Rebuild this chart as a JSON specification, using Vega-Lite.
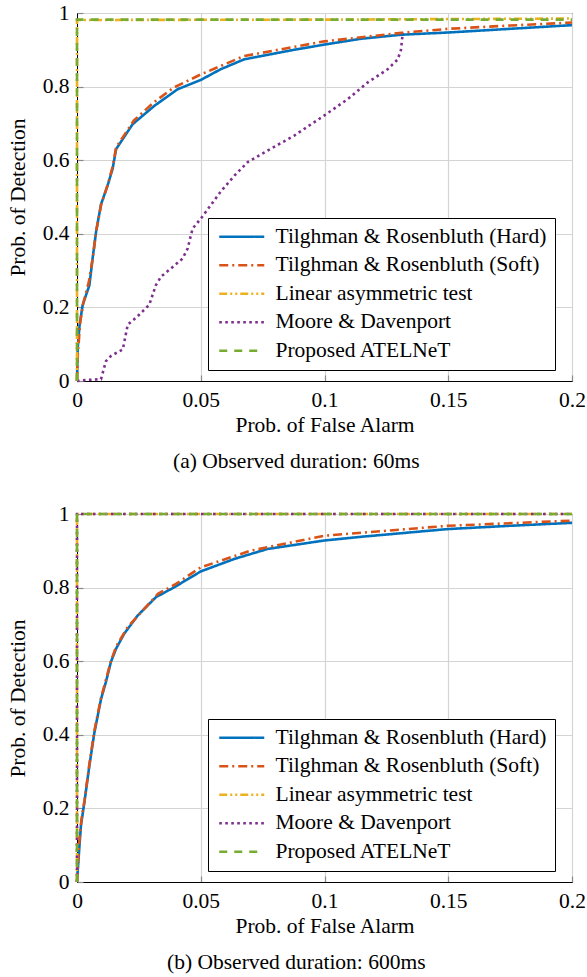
{
  "$schema": "https://vega.github.io/schema/vega-lite/v6.json",
  "padding": {"left": 6, "top": 1, "right": 2, "bottom": 2},
  "background": "white",
  "spacing": 29,
  "config": {
    "font": "Liberation Serif",
    "view": {"stroke": "black", "strokeWidth": 1},
    "axis": {
      "labelFont": "Liberation Serif", "labelFontSize": 21.5, "labelColor": "black",
      "titleFont": "Liberation Serif", "titleFontSize": 21.5, "titleFontWeight": "normal", "titleColor": "black",
      "domainColor": "black", "domainWidth": 1,
      "gridColor": "#d4d4d4", "gridWidth": 1.2,
      "ticks": true, "tickSize": -6, "tickColor": "#8a8a8a", "tickWidth": 1.2,
      "labelPadding": 14, "labelFlush": false
    },
    "axisX": {"titlePadding": 4},
    "axisY": {"titlePadding": 13},
    "legend": {
      "labelFont": "Liberation Serif", "labelFontSize": 21.5, "labelColor": "black",
      "fillColor": "white", "strokeColor": "black", "padding": 8,
      "symbolType": "M-1,0H5", "symbolSize": 225, "symbolStrokeWidth": 2.6,
      "labelOffset": 38, "rowPadding": 5.5, "labelLimit": 400
    },
    "title": {"font": "Liberation Serif", "fontSize": 21.5, "fontWeight": "normal", "color": "black", "orient": "bottom", "frame": "bounds", "anchor": "middle", "offset": 15}
  },
  "datasets": {
    "a": [
      {"method": "Tilghman & Rosenbluth (Hard)", "x": 0, "y": 0},
      {"method": "Tilghman & Rosenbluth (Hard)", "x": 0.0003, "y": 0.09},
      {"method": "Tilghman & Rosenbluth (Hard)", "x": 0.001, "y": 0.15},
      {"method": "Tilghman & Rosenbluth (Hard)", "x": 0.0023, "y": 0.207},
      {"method": "Tilghman & Rosenbluth (Hard)", "x": 0.005, "y": 0.26},
      {"method": "Tilghman & Rosenbluth (Hard)", "x": 0.0063, "y": 0.333},
      {"method": "Tilghman & Rosenbluth (Hard)", "x": 0.0077, "y": 0.405},
      {"method": "Tilghman & Rosenbluth (Hard)", "x": 0.0097, "y": 0.48},
      {"method": "Tilghman & Rosenbluth (Hard)", "x": 0.0124, "y": 0.532},
      {"method": "Tilghman & Rosenbluth (Hard)", "x": 0.0144, "y": 0.577},
      {"method": "Tilghman & Rosenbluth (Hard)", "x": 0.0158, "y": 0.63},
      {"method": "Tilghman & Rosenbluth (Hard)", "x": 0.0225, "y": 0.698},
      {"method": "Tilghman & Rosenbluth (Hard)", "x": 0.0313, "y": 0.748},
      {"method": "Tilghman & Rosenbluth (Hard)", "x": 0.0407, "y": 0.793},
      {"method": "Tilghman & Rosenbluth (Hard)", "x": 0.05, "y": 0.818},
      {"method": "Tilghman & Rosenbluth (Hard)", "x": 0.058, "y": 0.847},
      {"method": "Tilghman & Rosenbluth (Hard)", "x": 0.0675, "y": 0.874},
      {"method": "Tilghman & Rosenbluth (Hard)", "x": 0.0877, "y": 0.9},
      {"method": "Tilghman & Rosenbluth (Hard)", "x": 0.0998, "y": 0.914},
      {"method": "Tilghman & Rosenbluth (Hard)", "x": 0.1147, "y": 0.93},
      {"method": "Tilghman & Rosenbluth (Hard)", "x": 0.131, "y": 0.941},
      {"method": "Tilghman & Rosenbluth (Hard)", "x": 0.15, "y": 0.947},
      {"method": "Tilghman & Rosenbluth (Hard)", "x": 0.175, "y": 0.957},
      {"method": "Tilghman & Rosenbluth (Hard)", "x": 0.2, "y": 0.967},
      {"method": "Tilghman & Rosenbluth (Soft)", "x": 0, "y": 0},
      {"method": "Tilghman & Rosenbluth (Soft)", "x": 0.0003, "y": 0.07},
      {"method": "Tilghman & Rosenbluth (Soft)", "x": 0.0013, "y": 0.16},
      {"method": "Tilghman & Rosenbluth (Soft)", "x": 0.0025, "y": 0.21},
      {"method": "Tilghman & Rosenbluth (Soft)", "x": 0.0048, "y": 0.27},
      {"method": "Tilghman & Rosenbluth (Soft)", "x": 0.0065, "y": 0.34},
      {"method": "Tilghman & Rosenbluth (Soft)", "x": 0.0078, "y": 0.41},
      {"method": "Tilghman & Rosenbluth (Soft)", "x": 0.0098, "y": 0.48},
      {"method": "Tilghman & Rosenbluth (Soft)", "x": 0.0125, "y": 0.535},
      {"method": "Tilghman & Rosenbluth (Soft)", "x": 0.0145, "y": 0.585},
      {"method": "Tilghman & Rosenbluth (Soft)", "x": 0.0158, "y": 0.635},
      {"method": "Tilghman & Rosenbluth (Soft)", "x": 0.023, "y": 0.708},
      {"method": "Tilghman & Rosenbluth (Soft)", "x": 0.031, "y": 0.757},
      {"method": "Tilghman & Rosenbluth (Soft)", "x": 0.039, "y": 0.797},
      {"method": "Tilghman & Rosenbluth (Soft)", "x": 0.05, "y": 0.833},
      {"method": "Tilghman & Rosenbluth (Soft)", "x": 0.0675, "y": 0.883},
      {"method": "Tilghman & Rosenbluth (Soft)", "x": 0.1, "y": 0.923},
      {"method": "Tilghman & Rosenbluth (Soft)", "x": 0.131, "y": 0.946},
      {"method": "Tilghman & Rosenbluth (Soft)", "x": 0.15, "y": 0.957},
      {"method": "Tilghman & Rosenbluth (Soft)", "x": 0.175, "y": 0.966},
      {"method": "Tilghman & Rosenbluth (Soft)", "x": 0.2, "y": 0.974},
      {"method": "Linear asymmetric test", "x": 0, "y": 0},
      {"method": "Linear asymmetric test", "x": 0, "y": 0.981},
      {"method": "Linear asymmetric test", "x": 0.1, "y": 0.982},
      {"method": "Linear asymmetric test", "x": 0.2, "y": 0.985},
      {"method": "Moore & Davenport", "x": 0, "y": 0},
      {"method": "Moore & Davenport", "x": 0.0043, "y": 0.003},
      {"method": "Moore & Davenport", "x": 0.0097, "y": 0.005},
      {"method": "Moore & Davenport", "x": 0.0117, "y": 0.054},
      {"method": "Moore & Davenport", "x": 0.0137, "y": 0.068},
      {"method": "Moore & Davenport", "x": 0.0185, "y": 0.086},
      {"method": "Moore & Davenport", "x": 0.0205, "y": 0.153},
      {"method": "Moore & Davenport", "x": 0.0245, "y": 0.176},
      {"method": "Moore & Davenport", "x": 0.0292, "y": 0.207},
      {"method": "Moore & Davenport", "x": 0.0319, "y": 0.261},
      {"method": "Moore & Davenport", "x": 0.034, "y": 0.284},
      {"method": "Moore & Davenport", "x": 0.038, "y": 0.306},
      {"method": "Moore & Davenport", "x": 0.0427, "y": 0.333},
      {"method": "Moore & Davenport", "x": 0.0447, "y": 0.36},
      {"method": "Moore & Davenport", "x": 0.0467, "y": 0.414},
      {"method": "Moore & Davenport", "x": 0.05, "y": 0.441},
      {"method": "Moore & Davenport", "x": 0.058, "y": 0.514},
      {"method": "Moore & Davenport", "x": 0.0636, "y": 0.558},
      {"method": "Moore & Davenport", "x": 0.069, "y": 0.595},
      {"method": "Moore & Davenport", "x": 0.077, "y": 0.626},
      {"method": "Moore & Davenport", "x": 0.0878, "y": 0.667},
      {"method": "Moore & Davenport", "x": 0.0998, "y": 0.721},
      {"method": "Moore & Davenport", "x": 0.1094, "y": 0.766},
      {"method": "Moore & Davenport", "x": 0.1174, "y": 0.811},
      {"method": "Moore & Davenport", "x": 0.1255, "y": 0.847},
      {"method": "Moore & Davenport", "x": 0.1296, "y": 0.874},
      {"method": "Moore & Davenport", "x": 0.1309, "y": 0.9},
      {"method": "Moore & Davenport", "x": 0.1316, "y": 0.946},
      {"method": "Proposed ATELNeT", "x": 0, "y": 0},
      {"method": "Proposed ATELNeT", "x": 0, "y": 0.982},
      {"method": "Proposed ATELNeT", "x": 0.2, "y": 0.982}
    ],
    "b": [
      {"method": "Tilghman & Rosenbluth (Hard)", "x": 0, "y": 0},
      {"method": "Tilghman & Rosenbluth (Hard)", "x": 0.0009, "y": 0.09},
      {"method": "Tilghman & Rosenbluth (Hard)", "x": 0.0016, "y": 0.154},
      {"method": "Tilghman & Rosenbluth (Hard)", "x": 0.003, "y": 0.217},
      {"method": "Tilghman & Rosenbluth (Hard)", "x": 0.005, "y": 0.316},
      {"method": "Tilghman & Rosenbluth (Hard)", "x": 0.007, "y": 0.405},
      {"method": "Tilghman & Rosenbluth (Hard)", "x": 0.0097, "y": 0.497},
      {"method": "Tilghman & Rosenbluth (Hard)", "x": 0.0117, "y": 0.544},
      {"method": "Tilghman & Rosenbluth (Hard)", "x": 0.0137, "y": 0.598},
      {"method": "Tilghman & Rosenbluth (Hard)", "x": 0.0158, "y": 0.634},
      {"method": "Tilghman & Rosenbluth (Hard)", "x": 0.0191, "y": 0.675},
      {"method": "Tilghman & Rosenbluth (Hard)", "x": 0.0245, "y": 0.724},
      {"method": "Tilghman & Rosenbluth (Hard)", "x": 0.0319, "y": 0.774},
      {"method": "Tilghman & Rosenbluth (Hard)", "x": 0.0393, "y": 0.801},
      {"method": "Tilghman & Rosenbluth (Hard)", "x": 0.05, "y": 0.844},
      {"method": "Tilghman & Rosenbluth (Hard)", "x": 0.0636, "y": 0.878},
      {"method": "Tilghman & Rosenbluth (Hard)", "x": 0.077, "y": 0.905},
      {"method": "Tilghman & Rosenbluth (Hard)", "x": 0.0999, "y": 0.928},
      {"method": "Tilghman & Rosenbluth (Hard)", "x": 0.1147, "y": 0.938},
      {"method": "Tilghman & Rosenbluth (Hard)", "x": 0.1497, "y": 0.959},
      {"method": "Tilghman & Rosenbluth (Hard)", "x": 0.175, "y": 0.968},
      {"method": "Tilghman & Rosenbluth (Hard)", "x": 0.2, "y": 0.976},
      {"method": "Tilghman & Rosenbluth (Soft)", "x": 0, "y": 0},
      {"method": "Tilghman & Rosenbluth (Soft)", "x": 0.0008, "y": 0.1},
      {"method": "Tilghman & Rosenbluth (Soft)", "x": 0.0018, "y": 0.17},
      {"method": "Tilghman & Rosenbluth (Soft)", "x": 0.003, "y": 0.22},
      {"method": "Tilghman & Rosenbluth (Soft)", "x": 0.005, "y": 0.32},
      {"method": "Tilghman & Rosenbluth (Soft)", "x": 0.007, "y": 0.41},
      {"method": "Tilghman & Rosenbluth (Soft)", "x": 0.0097, "y": 0.5},
      {"method": "Tilghman & Rosenbluth (Soft)", "x": 0.0137, "y": 0.6},
      {"method": "Tilghman & Rosenbluth (Soft)", "x": 0.0158, "y": 0.64},
      {"method": "Tilghman & Rosenbluth (Soft)", "x": 0.0205, "y": 0.693},
      {"method": "Tilghman & Rosenbluth (Soft)", "x": 0.0327, "y": 0.783},
      {"method": "Tilghman & Rosenbluth (Soft)", "x": 0.04, "y": 0.81},
      {"method": "Tilghman & Rosenbluth (Soft)", "x": 0.05, "y": 0.855},
      {"method": "Tilghman & Rosenbluth (Soft)", "x": 0.07, "y": 0.9},
      {"method": "Tilghman & Rosenbluth (Soft)", "x": 0.1, "y": 0.941},
      {"method": "Tilghman & Rosenbluth (Soft)", "x": 0.15, "y": 0.968},
      {"method": "Tilghman & Rosenbluth (Soft)", "x": 0.2, "y": 0.982},
      {"method": "Linear asymmetric test", "x": 0, "y": 0},
      {"method": "Linear asymmetric test", "x": 0, "y": 1},
      {"method": "Linear asymmetric test", "x": 0.2, "y": 1},
      {"method": "Moore & Davenport", "x": 0, "y": 0},
      {"method": "Moore & Davenport", "x": 0, "y": 1},
      {"method": "Moore & Davenport", "x": 0.2, "y": 1},
      {"method": "Proposed ATELNeT", "x": 0, "y": 0},
      {"method": "Proposed ATELNeT", "x": 0, "y": 1},
      {"method": "Proposed ATELNeT", "x": 0.2, "y": 1}
    ]
  },
  "resolve": {
    "scale": {"color": "independent", "strokeDash": "independent"},
    "legend": {"color": "independent", "strokeDash": "independent"}
  },
  "vconcat": [
    {
      "width": 495, "height": 368,
      "title": {"text": "(a) Observed duration: 60ms"},
      "data": {"name": "a"},
      "mark": {"type": "line", "strokeWidth": 2.6, "strokeCap": "butt", "clip": false},
      "encoding": {
        "x": {"field": "x", "type": "quantitative", "scale": {"domain": [0, 0.2], "nice": false}, "axis": {"title": "Prob. of False Alarm", "values": [0, 0.05, 0.1, 0.15, 0.2], "format": "~g"}},
        "y": {"field": "y", "type": "quantitative", "scale": {"domain": [0, 1], "nice": false}, "axis": {"title": "Prob. of Detection", "values": [0, 0.2, 0.4, 0.6, 0.8, 1], "format": "~g"}},
        "color": {"field": "method", "type": "nominal",
          "scale": {"domain": ["Tilghman & Rosenbluth (Hard)", "Tilghman & Rosenbluth (Soft)", "Linear asymmetric test", "Moore & Davenport", "Proposed ATELNeT"], "range": ["#0072BD", "#D95319", "#EDB120", "#7E2F8E", "#77AC30"]},
          "legend": {"title": null, "orient": "none", "legendX": 131, "legendY": 205}},
        "strokeDash": {"field": "method", "type": "nominal",
          "scale": {"domain": ["Tilghman & Rosenbluth (Hard)", "Tilghman & Rosenbluth (Soft)", "Linear asymmetric test", "Moore & Davenport", "Proposed ATELNeT"], "range": [[1, 0], [9, 4, 2, 4], [8, 3, 2, 3, 2, 3], [2.6, 3.4], [8, 7]]},
          "legend": {"title": null, "orient": "none", "legendX": 131, "legendY": 205}},
        "order": {"value": null}
      }
    },
    {
      "width": 495, "height": 368,
      "title": {"text": "(b) Observed duration: 600ms"},
      "data": {"name": "b"},
      "mark": {"type": "line", "strokeWidth": 2.6, "strokeCap": "butt", "clip": false},
      "encoding": {
        "x": {"field": "x", "type": "quantitative", "scale": {"domain": [0, 0.2], "nice": false}, "axis": {"title": "Prob. of False Alarm", "values": [0, 0.05, 0.1, 0.15, 0.2], "format": "~g"}},
        "y": {"field": "y", "type": "quantitative", "scale": {"domain": [0, 1], "nice": false}, "axis": {"title": "Prob. of Detection", "values": [0, 0.2, 0.4, 0.6, 0.8, 1], "format": "~g"}},
        "color": {"field": "method", "type": "nominal",
          "scale": {"domain": ["Tilghman & Rosenbluth (Hard)", "Tilghman & Rosenbluth (Soft)", "Linear asymmetric test", "Moore & Davenport", "Proposed ATELNeT"], "range": ["#0072BD", "#D95319", "#EDB120", "#7E2F8E", "#77AC30"]},
          "legend": {"title": null, "orient": "none", "legendX": 131, "legendY": 205}},
        "strokeDash": {"field": "method", "type": "nominal",
          "scale": {"domain": ["Tilghman & Rosenbluth (Hard)", "Tilghman & Rosenbluth (Soft)", "Linear asymmetric test", "Moore & Davenport", "Proposed ATELNeT"], "range": [[1, 0], [9, 4, 2, 4], [8, 3, 2, 3, 2, 3], [2.6, 3.4], [8, 7]]},
          "legend": {"title": null, "orient": "none", "legendX": 131, "legendY": 205}},
        "order": {"value": null}
      }
    }
  ]
}
